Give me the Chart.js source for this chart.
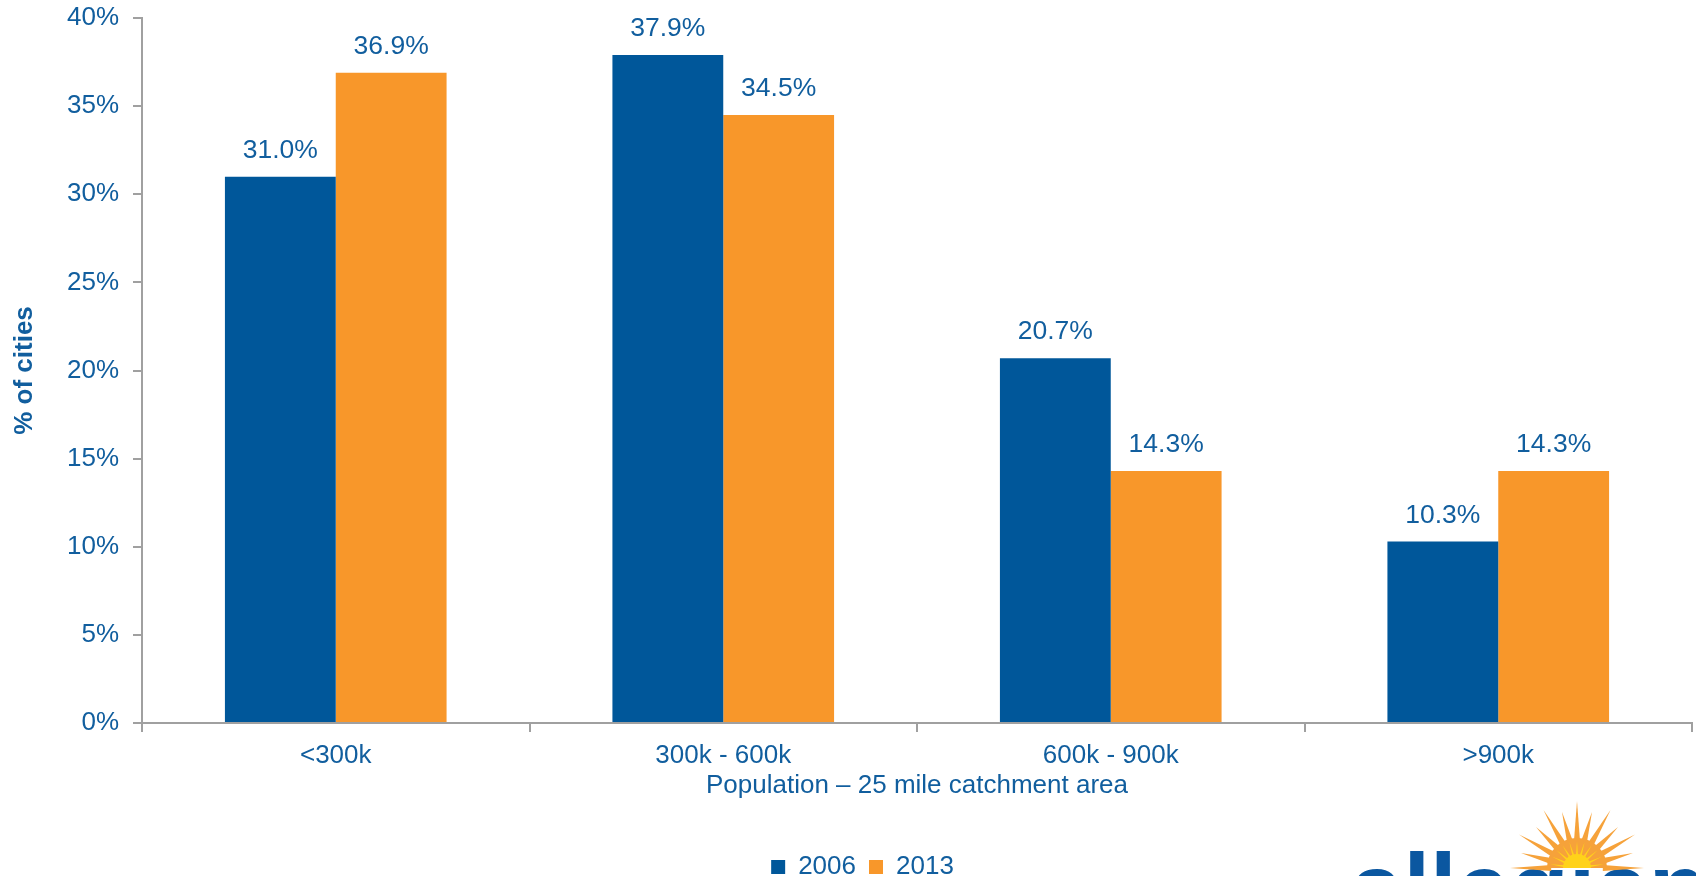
<!DOCTYPE html>
<html>
<head>
<meta charset="utf-8">
<script src="https://cdn.jsdelivr.net/npm/chart.js@4"></script>
<style>
  html, body { margin: 0; padding: 0; background: #fff; }
  #wrap { width: 1696px; height: 876px; }
</style>
</head>
<body>
<div id="wrap"><canvas id="chart" width="1696" height="876"></canvas></div>
<script>
// Данные графика
const categories = ['<300k', '300k - 600k', '600k - 900k', '>900k']
const series2006 = [31.0, 37.9, 20.7, 10.3]
const series2013 = [36.9, 34.5, 14.3, 14.3]
const seriesNames = ['2006', '2013']
const yTicks = [0, 5, 10, 15, 20, 25, 30, 35, 40]

const BLUE = '#00579A'
const ORANGE = '#F8972A'
const TEXT = '#115E9E'
const AXIS = '#A0A0A0'
const FONT = "'Liberation Sans', Arial, sans-serif"

Chart.defaults.font.family = FONT
Chart.defaults.font.size = 26
Chart.defaults.color = TEXT

// Подписи значений над столбцами
const valueLabels = {
    id: 'valueLabels',
    afterDatasetsDraw(chart) {
        const ctx = chart.ctx
        ctx.save()
        ctx.font = '26.5px ' + FONT
        ctx.fillStyle = TEXT
        ctx.textAlign = 'center'
        ctx.textBaseline = 'middle'
        chart.data.datasets.forEach((ds, i) => {
            chart.getDatasetMeta(i).data.forEach((bar, j) => {
                ctx.fillText(ds.data[j].toFixed(1) + '%', bar.x, bar.y - 26)
            })
        })
        ctx.restore()
    }
}

// Логотип в правом нижнем углу (обрезан краем)
const logo = {
    id: 'logo',
    afterDraw(chart) {
        const ctx = chart.ctx
        ctx.save()
        // текст
        ctx.fillStyle = '#0B57A0'
        ctx.font = 'bold 96px ' + FONT
        ctx.textBaseline = 'alphabetic'
        ctx.fillText('allegiant', 1350, 921)

        const cx = 1577, cy = 868
        // белая подложка под солнцем
        ctx.fillStyle = '#fff'
        ctx.beginPath()
        ctx.arc(cx, cy, 32, Math.PI, 2 * Math.PI)
        ctx.fill()
        // лучи
        ctx.fillStyle = '#F6A23A'
        const n = 13
        for (let k = 0; k < n; k++) {
            const a = Math.PI + Math.PI * k / (n - 1)
            const w = 0.12
            const r = (k % 2) ? 58 : 67
            ctx.beginPath()
            ctx.moveTo(cx + Math.cos(a - w) * 26, cy + Math.sin(a - w) * 26)
            ctx.lineTo(cx + Math.cos(a) * r, cy + Math.sin(a) * r)
            ctx.lineTo(cx + Math.cos(a + w) * 26, cy + Math.sin(a + w) * 26)
            ctx.closePath()
            ctx.fill()
        }
        ctx.beginPath()
        ctx.arc(cx, cy, 30, Math.PI, 2 * Math.PI)
        ctx.fill()
        // жёлтая середина
        ctx.fillStyle = '#FFD21A'
        for (let k = 0; k < 11; k++) {
            const a = Math.PI + Math.PI * (k + 0.5) / 11
            ctx.beginPath()
            ctx.moveTo(cx + Math.cos(a - 0.12) * 10, cy + Math.sin(a - 0.12) * 10)
            ctx.lineTo(cx + Math.cos(a) * 27, cy + Math.sin(a) * 27)
            ctx.lineTo(cx + Math.cos(a + 0.12) * 10, cy + Math.sin(a + 0.12) * 10)
            ctx.closePath()
            ctx.fill()
        }
        ctx.beginPath()
        ctx.arc(cx, cy, 14, Math.PI, 2 * Math.PI)
        ctx.fill()
        ctx.restore()
    }
}

const chart = new Chart(document.getElementById('chart'), {
    type: 'bar',
    data: {
        labels: categories,
        datasets: [
            { label: seriesNames[0], data: series2006, backgroundColor: BLUE },
            { label: seriesNames[1], data: series2013, backgroundColor: ORANGE }
        ]
    },
    options: {
        responsive: false,
        animation: false,
        events: [],
        // слева отступ 33, чтобы легенда сместилась вправо, как в оригинале
        layout: { padding: { top: 18, left: 33, right: 4, bottom: -14 } },
        datasets: { bar: { categoryPercentage: 0.572, barPercentage: 1.0 } },
        plugins: {
            tooltip: { enabled: false },
            legend: {
                position: 'bottom',
                labels: {
                    boxWidth: 14,
                    boxHeight: 14,
                    padding: 13,
                    color: TEXT,
                    font: { size: 26 }
                }
            }
        },
        scales: {
            x: {
                grid: { drawOnChartArea: false, drawTicks: true, tickLength: 9, color: AXIS, lineWidth: 2, offset: true },
                border: { color: AXIS, width: 2 },
                ticks: { color: TEXT, padding: 8, font: { size: 26 } },
                title: { display: true, text: 'Population – 25 mile catchment area', color: TEXT, font: { size: 26 }, padding: { top: 0, bottom: 40 } },
                afterFit: s => { s.height = 876 + 14 - 723 - s.chart.legend.height }
            },
            y: {
                min: 0,
                max: 40,
                afterBuildTicks: s => { s.ticks = yTicks.map(v => ({ value: v })) },
                grid: { drawOnChartArea: false, drawTicks: true, tickLength: 9, color: AXIS, lineWidth: 2 },
                border: { color: AXIS, width: 2 },
                ticks: { color: TEXT, padding: 14, font: { size: 26 }, callback: v => v + '%' },
                title: { display: true, text: '% of cities', color: TEXT, font: { size: 26, weight: 'bold' }, padding: { top: -24, bottom: 0 } },
                afterFit: s => {
                    s.width = 109
                    // отступ подписей не должен сдвигать верх области графика
                    s.paddingTop = 14
                    s.paddingBottom = 14
                }
            }
        }
    },
    plugins: [valueLabels, logo]
})
</script>
</body>
</html>
